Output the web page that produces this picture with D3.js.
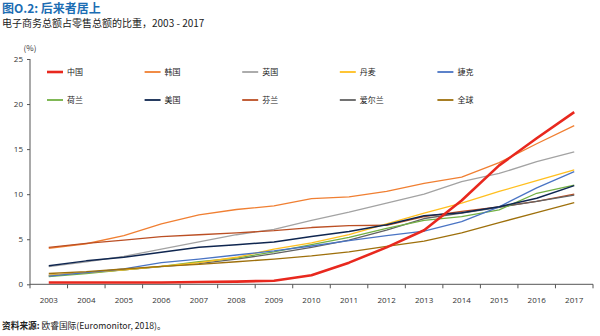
<!DOCTYPE html>
<html>
<head>
<meta charset="utf-8">
<script src="https://cdn.jsdelivr.net/npm/d3@7"></script>
<style>
  body { margin: 0; background: #fff; }
  svg { font-family: "Noto Sans CJK SC", "Noto Sans", sans-serif; }
</style>
</head>
<body>
<div id="chart"></div>
<script>
// years on the x axis
const years = ["2003", "2004", "2005", "2006", "2007", "2008", "2009", "2010",
  "2011", "2012", "2013", "2014", "2015", "2016", "2017"];

// series values (% of retail sales)
const china       = [0.2, 0.2, 0.2, 0.2, 0.25, 0.3, 0.4, 1.0, 2.4, 4.1, 6.0, 9.3, 13.2, 16.2, 19.1];
const korea       = [4.0, 4.5, 5.4, 6.7, 7.7, 8.3, 8.7, 9.5, 9.7, 10.3, 11.2, 11.9, 13.5, 15.6, 17.6];
const uk          = [1.95, 2.5, 3.1, 3.9, 4.7, 5.5, 6.1, 7.1, 8.0, 9.0, 10.0, 11.4, 12.3, 13.6, 14.7];
const denmark     = [1.0, 1.3, 1.6, 2.0, 2.4, 3.0, 3.9, 4.6, 5.5, 6.7, 7.9, 9.0, 10.3, 11.5, 12.7];
const czech       = [0.9, 1.3, 1.7, 2.4, 2.8, 3.25, 3.7, 4.25, 4.85, 5.4, 5.9, 6.95, 8.6, 10.7, 12.5];
const netherlands = [0.85, 1.2, 1.6, 2.0, 2.5, 2.9, 3.6, 4.4, 5.2, 6.2, 7.1, 7.5, 8.25, 10.1, 11.0];
const usa         = [2.05, 2.6, 3.0, 3.55, 4.1, 4.4, 4.7, 5.3, 5.85, 6.6, 7.6, 7.95, 8.6, 9.55, 10.95];
const finland     = [4.1, 4.55, 4.9, 5.3, 5.5, 5.7, 5.95, 6.3, 6.5, 6.55, 7.5, 8.1, 8.6, 9.2, 10.0];
const ireland     = [1.0, 1.3, 1.6, 1.95, 2.3, 2.8, 3.4, 4.1, 4.9, 6.0, 7.3, 7.9, 8.55, 9.2, 9.9];
const world       = [1.2, 1.4, 1.7, 2.0, 2.2, 2.5, 2.8, 3.15, 3.6, 4.2, 4.8, 5.7, 6.85, 7.95, 9.05];

const yTicks = [0, 5, 10, 15, 20, 25];

// legend order (row by row)
const series = [
  { name: "中国", values: china, color: "#e8281e", width: 2.6 },
  { name: "韩国", values: korea, color: "#f07f32", width: 1.3 },
  { name: "英国", values: uk, color: "#a3a3a3", width: 1.3 },
  { name: "丹麦", values: denmark, color: "#ffbf1f", width: 1.3 },
  { name: "捷克", values: czech, color: "#4a74c4", width: 1.3 },
  { name: "荷兰", values: netherlands, color: "#72b043", width: 1.3 },
  { name: "美国", values: usa, color: "#0f2650", width: 1.5 },
  { name: "芬兰", values: finland, color: "#bb4f24", width: 1.3 },
  { name: "爱尔兰", values: ireland, color: "#626262", width: 1.3 },
  { name: "全球", values: world, color: "#9e700c", width: 1.3 }
];

const width = 600, height = 336;
const margin = { left: 30, right: 7, top: 59, bottom: 52 };

const svg = d3.select("#chart").append("svg")
  .attr("width", width).attr("height", height);

// titles
svg.append("text").attr("x", 2).attr("y", 13)
  .attr("font-size", 12).attr("font-weight", "bold").attr("fill", "#1b6db3")
  .text("图O.2: 后来者居上");
svg.append("text").attr("x", 2).attr("y", 27)
  .attr("font-size", 10).attr("fill", "#222")
  .text("电子商务总额占零售总额的比重，2003 - 2017");

const x = d3.scaleBand().domain(years)
  .range([margin.left, width - margin.right]);
const y = d3.scaleLinear().domain([0, 25])
  .range([height - margin.bottom + 0.3, margin.top]);

const axisColor = "#555";

// y axis
const yAxis = svg.append("g")
  .attr("transform", `translate(${margin.left},0)`)
  .call(d3.axisLeft(y).tickValues(yTicks).tickSize(3).tickPadding(4));
yAxis.select(".domain").attr("d", `M0,${y(25)}V${y(0) + 4}`);

// x axis, ticks at band edges
const xAxis = svg.append("g")
  .attr("transform", `translate(0,${y(0)})`)
  .call(d3.axisBottom(x).tickSize(0).tickPadding(13));
xAxis.select(".domain").attr("d", `M${margin.left},0H${width - margin.right}`);
xAxis.selectAll(".edge").data(years)
  .join("line")
  .attr("x1", d => x(d) + x.bandwidth())
  .attr("x2", d => x(d) + x.bandwidth())
  .attr("y1", 0).attr("y2", 4)
  .attr("stroke", axisColor);

[yAxis, xAxis].forEach(a => {
  a.selectAll(".domain, .tick line").attr("stroke", axisColor);
  a.selectAll("text").attr("font-size", 8).attr("fill", "#333")
    .attr("font-family", "'Open Sans', 'Noto Sans', sans-serif");
});

svg.append("text").attr("x", 30).attr("y", 51)
  .attr("text-anchor", "middle").attr("font-size", 8).attr("fill", "#333")
  .text("(%)");

// lines
const line = d3.line()
  .x((d, i) => x(years[i]) + x.bandwidth() / 2)
  .y(d => y(d));

const drawOrder = [1, 2, 7, 8, 5, 3, 4, 6, 9, 0];
svg.append("g").selectAll("path")
  .data(drawOrder.map(i => series[i]))
  .join("path")
  .attr("d", d => line(d.values))
  .attr("fill", "none")
  .attr("stroke", d => d.color)
  .attr("stroke-width", d => d.width)
  .attr("stroke-linejoin", "round");

// legend, 2 rows of 5
const legend = svg.append("g").selectAll("g")
  .data(series)
  .join("g")
  .attr("transform", (d, i) => `translate(${47 + (i % 5) * 97.6},${i < 5 ? 72 : 100})`);
legend.append("line")
  .attr("x1", 0).attr("x2", 16)
  .attr("stroke", d => d.color)
  .attr("stroke-width", d => d.name === "中国" ? 2.6 : 1.8);
legend.append("text")
  .attr("x", 20).attr("y", 3)
  .attr("font-size", 8).attr("fill", "#222")
  .text(d => d.name);

// source note
const note = svg.append("text").attr("x", 2).attr("y", 329)
  .attr("font-size", 8.7).attr("fill", "#222");
note.append("tspan").attr("font-weight", "bold").text("资料来源: ");
note.append("tspan").text("欧睿国际(Euromonitor, 2018)。");
</script>
</body>
</html>
